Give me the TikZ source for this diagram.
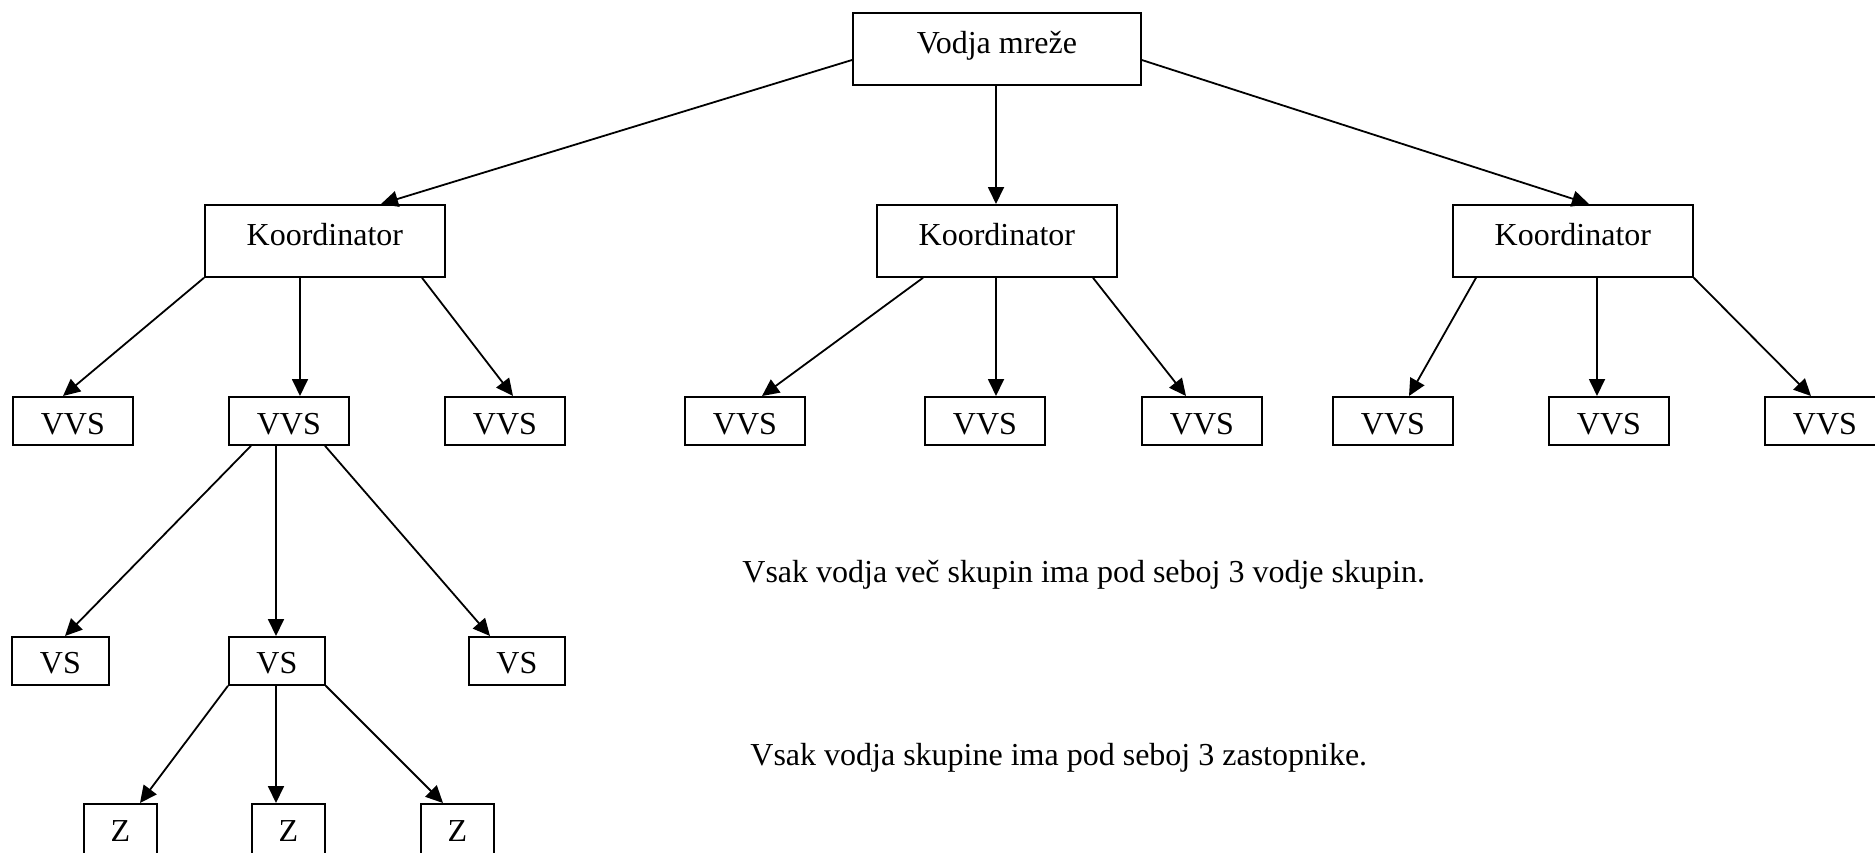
\documentclass[tikz,border=0pt]{standalone}
\usepackage{fontspec}
\setmainfont{Liberation Serif}
\usetikzlibrary{arrows.meta,calc}
\tikzset{
  box/.style={draw=black, line width=0.9pt, rectangle, anchor=north west, inner sep=0pt,
    text depth=0pt, font=\fontsize{16pt}{19pt}\selectfont},
  conn/.style={line width=0.9pt, -{Triangle[length=8.5pt,width=8pt]}},
  note/.style={anchor=base west, inner sep=0pt, font=\fontsize{16pt}{19pt}\selectfont}
}
\begin{document}
\begin{tikzpicture}[x=0.5pt,y=-0.5pt]
\useasboundingbox (0,0) rectangle (1875,852);
\fill[white] (0,0) rectangle (1875,852);
\clip (0,0) rectangle (1875,852);
% top
\node[box, minimum width=144pt, minimum height=36pt, text height=5pt] (vm) at (852,12) {Vodja mreže};
% coordinators
\node[box, minimum width=120pt, minimum height=36pt, text height=5pt] (k1) at (204,204) {Koordinator};
\node[box, minimum width=120pt, minimum height=36pt, text height=5pt] (k2) at (876,204) {Koordinator};
\node[box, minimum width=120pt, minimum height=36pt, text height=5pt] (k3) at (1452,204) {Koordinator};
% VVS row
\tikzset{vvs/.style={box, minimum width=60pt, minimum height=24pt, text height=13.5pt}}
\node[vvs] (v1) at (12,396) {VVS};
\node[vvs] (v2) at (228,396) {VVS};
\node[vvs] (v3) at (444,396) {VVS};
\node[vvs] (v4) at (684,396) {VVS};
\node[vvs] (v5) at (924,396) {VVS};
\node[vvs] (v6) at (1141,396) {VVS};
\node[vvs] (v7) at (1332,396) {VVS};
\node[vvs] (v8) at (1548,396) {VVS};
\node[vvs] (v9) at (1764,396) {VVS};
% VS row
\tikzset{vsbox/.style={box, minimum height=24pt, text height=13pt}}
\node[vsbox, minimum width=48.5pt] (s1) at (11,636) {VS};
\node[vsbox, minimum width=48pt] (s2) at (228,636) {VS};
\node[vsbox, minimum width=48pt] (s3) at (468,636) {VS};
% Z row
\tikzset{zbox/.style={box, minimum width=36.5pt, minimum height=26pt, text height=11.5pt}}
\node[zbox] (z1) at (83,803) {Z};
\node[zbox] (z2) at (251,803) {Z};
\node[zbox] (z3) at (420,803) {Z};
% notes
\node[note] (t1) at (742,582) {Vsak vodja več skupin ima pod seboj 3 vodje skupin.};
\node[note] (t2) at (750,765) {Vsak vodja skupine ima pod seboj 3 zastopnike.};
% connectors
\draw[conn] ($(vm.north west)+(0,48)$) -- ($(k1.north west)+(177,0)$);
\draw[conn] ($(vm.north west)+(144,72)$) -- ($(k2.north west)+(120,0)$);
\draw[conn] ($(vm.north east)+(0,48)$) -- ($(k3.north west)+(137,0)$);
\draw[conn] (k1.south west) -- ($(v1.north west)+(51,0)$);
\draw[conn] ($(k1.south west)+(96,0)$) -- ($(v2.north west)+(72,0)$);
\draw[conn] ($(k1.south west)+(218,0)$) -- ($(v3.north west)+(69,0)$);
\draw[conn] ($(k2.south west)+(47,0)$) -- ($(v4.north west)+(78,0)$);
\draw[conn] ($(k2.south west)+(120,0)$) -- ($(v5.north west)+(72,0)$);
\draw[conn] ($(k2.south west)+(217,0)$) -- ($(v6.north west)+(45,0)$);
\draw[conn] ($(k3.south west)+(24,0)$) -- ($(v7.north west)+(77,0)$);
\draw[conn] ($(k3.south west)+(145,0)$) -- ($(v8.north west)+(49,0)$);
\draw[conn] (k3.south east) -- ($(v9.north west)+(47,0)$);
\draw[conn] ($(v2.south west)+(23,0)$) -- ($(s1.north west)+(54,0)$);
\draw[conn] ($(v2.south west)+(48,0)$) -- ($(s2.north west)+(48,0)$);
\draw[conn] ($(v2.south west)+(97,0)$) -- ($(s3.north west)+(22,0)$);
\draw[conn] (s2.south west) -- ($(z1.north west)+(57,0)$);
\draw[conn] ($(s2.south west)+(48,0)$) -- ($(z2.north west)+(25,0)$);
\draw[conn] (s2.south east) -- ($(z3.north west)+(23,0)$);
\end{tikzpicture}
\end{document}
